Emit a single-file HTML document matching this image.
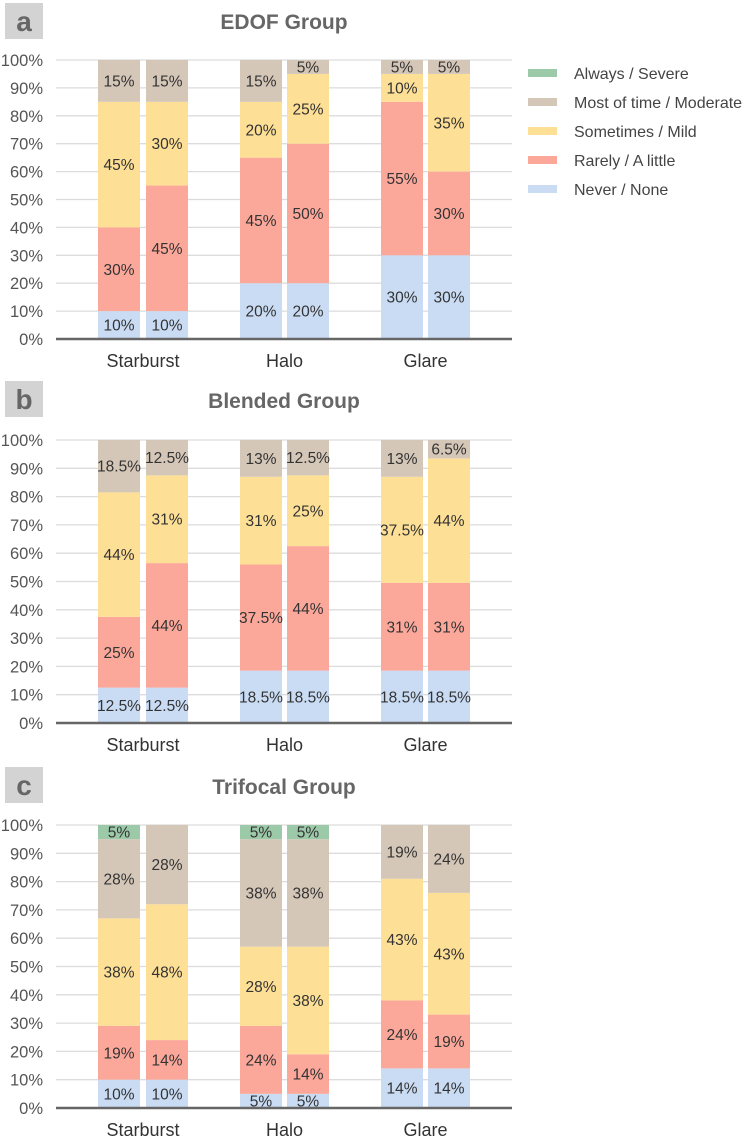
<!DOCTYPE html>
<html><head><meta charset="utf-8"><style>
body{margin:0;background:#fff;}
svg{display:block;font-family:"Liberation Sans",Arial,sans-serif;}
</style></head><body>
<svg id="chart" width="749" height="1140"></svg>
<script>
const categories = ["Starburst","Halo","Glare"];
const seriesNames = ["Never / None","Rarely / A little","Sometimes / Mild","Most of time / Moderate","Always / Severe"];
const colors = ["#c9dcf4","#fba89b","#fddf96","#d5c7b8","#9ccaa9"];
const yTicks = [0,10,20,30,40,50,60,70,80,90,100];
const panelTitles = ["EDOF Group","Blended Group","Trifocal Group"];
const panelLetters = ["a","b","c"];
// each panel: 6 bars (2 per category), values bottom->top
const edofData = [[10,30,45,15,0],[10,45,30,15,0],[20,45,20,15,0],[20,50,25,5,0],[30,55,10,5,0],[30,30,35,5,0]];
const blendedData = [[12.5,25,44,18.5,0],[12.5,44,31,12.5,0],[18.5,37.5,31,13,0],[18.5,44,25,12.5,0],[18.5,31,37.5,13,0],[18.5,31,44,6.5,0]];
const trifocalData = [[10,19,38,28,5],[10,14,48,28,0],[5,24,28,38,5],[5,14,38,38,5],[14,24,43,19,0],[14,19,43,24,0]];
const panelData = [edofData, blendedData, trifocalData];

const NS="http://www.w3.org/2000/svg";
const svg=document.getElementById('chart');
function mk(tag,attrs,parent,text){const e=document.createElementNS(NS,tag);for(const k in attrs)e.setAttribute(k,attrs[k]);if(text!==undefined)e.textContent=text;(parent||svg).appendChild(e);return e;}
const layouts=[{top:60,bottom:339,box:3,title:22},{top:440,bottom:723,box:381,title:401},{top:825,bottom:1108,box:767,title:787}];
const barX=[98,146,240,287,381,428], barW=42;
panelData.forEach((data,p)=>{
  const L=layouts[p];
  const g=mk('g',{});
  
  
  const y=v=>L.bottom-(L.bottom-L.top)*v/100;
  const box=mk('rect',{x:5,y:L.box,width:38,height:36,fill:'#d3d3d3'},g);
  
  
  const lt=mk('text',{x:24,y:L.box+28,'text-anchor':'middle','font-size':28,'font-weight':'bold',fill:'#666'},g,panelLetters[p]);
  
  
  const tt=mk('text',{x:284,y:L.title+7,'text-anchor':'middle','font-size':21,'font-weight':'bold',fill:'#666'},g,panelTitles[p]);
  
  
  yTicks.forEach(t=>{
    if(t>0){const gl=mk('line',{x1:56,x2:512,y1:y(t),y2:y(t),stroke:'#dcdcdc','stroke-width':1.3},g);
    
    }
    const tl=mk('text',{x:43,y:y(t)+6,'text-anchor':'end','font-size':16.5,fill:'#555'},g,t+'%');
    
    
  });
  data.forEach((vals,b)=>{
    let cum=0;
    vals.forEach((v,s)=>{
      if(v<=0)return;
      const y0=y(cum+v),y1=y(cum);
      const r=mk('rect',{x:barX[b],y:y0,width:barW,height:y1-y0,fill:colors[s]},g);
      
      
      const lbl=mk('text',{x:barX[b]+barW/2,y:(y0+y1)/2+5.5,'text-anchor':'middle','font-size':15.5,fill:'#333'},g,v+'%');
      
      
      cum+=v;
    });
  });
  const ax=mk('line',{x1:56,x2:512,y1:L.bottom,y2:L.bottom,stroke:'#666','stroke-width':2.5},g);
  
  
  categories.forEach((c,i)=>{
    const cx=(barX[2*i]+barX[2*i+1]+barW)/2;
    const cl=mk('text',{x:cx,y:L.bottom+28,'text-anchor':'middle','font-size':18,fill:'#333'},g,c);
    
    
  });
});
const lg=mk('g',{});


for(let i=4;i>=0;i--){
  const yy=73+(4-i)*29;
  const sw=mk('rect',{x:528,y:yy-4,width:29,height:8,fill:colors[i]},lg);
  
  
  const t=mk('text',{x:574,y:yy+6,'font-size':16,fill:'#444'},lg,seriesNames[i]);
  
  
}
</script>
</body></html>
